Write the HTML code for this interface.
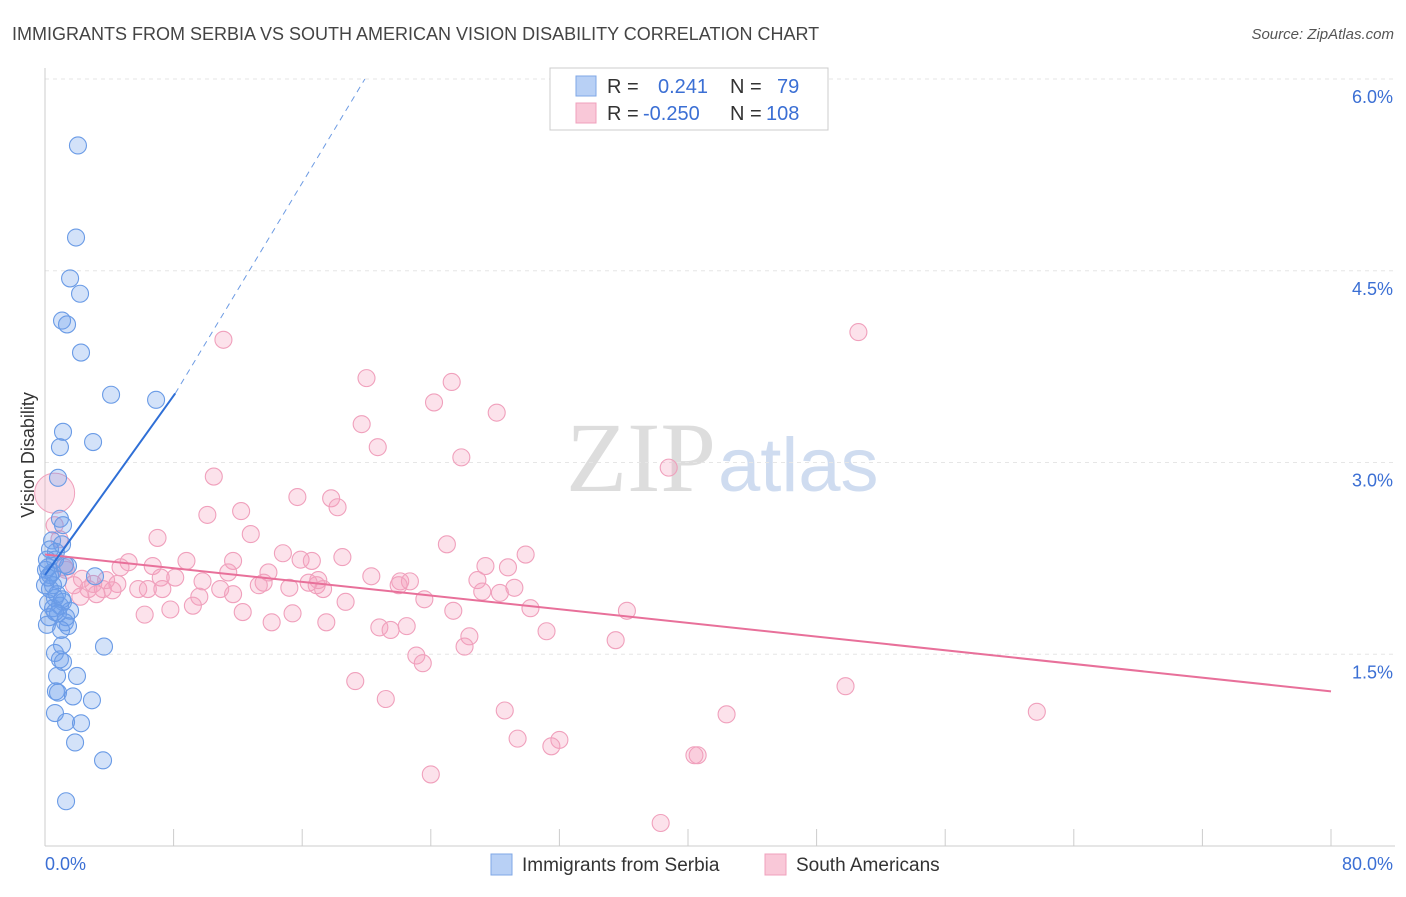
<!DOCTYPE html>
<html><head><meta charset="utf-8">
<style>
body{margin:0;background:#fff;font-family:"Liberation Sans",sans-serif;}
svg text{font-family:"Liberation Sans",sans-serif;}
</style></head>
<body>
<svg id="chart" width="1406" height="892" xmlns="http://www.w3.org/2000/svg">
<text x="12" y="40" font-size="18" fill="#444">IMMIGRANTS FROM SERBIA VS SOUTH AMERICAN VISION DISABILITY CORRELATION CHART</text>
<text x="1394" y="39" font-size="15" fill="#555" font-style="italic" text-anchor="end">Source: ZipAtlas.com</text>
<text x="716" y="491" font-size="100" fill="#ddd" text-anchor="end" style="font-family:'Liberation Serif',serif">ZIP</text>
<text x="718" y="491" font-size="76" fill="#cfdcf0">atlas</text>
<g id="grid"></g>
<g id="axes"></g>
<g id="marks"></g>
<text transform="translate(34,455) rotate(-90)" font-size="18" fill="#333" text-anchor="middle">Vision Disability</text>
<g>
<rect x="550" y="68" width="278" height="62" fill="#fff" stroke="#ccc"/>
<rect x="576" y="76" width="20" height="20" fill="#b8d0f5" stroke="#7fa7e6"/>
<rect x="576" y="103" width="20" height="20" fill="#f9c8d8" stroke="#f0a0bc"/>
<text x="607" y="93" font-size="20" fill="#333">R = <tspan fill="#3b6fd4" x="658">0.241</tspan><tspan x="730" fill="#333">N =</tspan><tspan x="777" fill="#3b6fd4">79</tspan></text>
<text x="607" y="120" font-size="20" fill="#333">R = <tspan fill="#3b6fd4" x="643">-0.250</tspan><tspan x="730" fill="#333">N =</tspan><tspan x="766" fill="#3b6fd4">108</tspan></text>
</g>
<g>
<rect x="491" y="854" width="21" height="21" fill="#b8d0f5" stroke="#7fa7e6"/>
<text x="522" y="871" font-size="19" fill="#333">Immigrants from Serbia</text>
<rect x="765" y="854" width="21" height="21" fill="#f9c8d8" stroke="#f0a0bc"/>
<text x="796" y="871" font-size="19" fill="#333">South Americans</text>
</g>
</svg>
<script>
const xTicks=[0,8,16,24,32,40,48,56,64,72,80];
const yTicks=[1.5,3.0,4.5,6.0];
const yTickLabels=["1.5%","3.0%","4.5%","6.0%"];
const serbiaX=[2.05,1.93,1.56,2.18,1.06,1.37,2.24,4.11,6.91,1.12,2.99,0.93,0.81,0.93,1.12,0.44,1.06,0.68,0.62,1.43,3.11,0.19,0.44,0.81,0.0,0.31,0.62,1.12,0.19,0.93,0.5,1.56,0.81,1.31,0.25,1.24,0.12,1.43,1.0,1.06,3.67,0.62,0.93,1.12,0.75,1.99,0.68,0.81,1.74,2.92,0.62,1.31,2.24,1.87,3.61,1.31,0.06,0.31,0.5,0.75,0.19,1.06,0.62,1.24,0.31,0.12];
const serbiaY=[5.48,4.76,4.44,4.32,4.11,4.08,3.86,3.53,3.49,3.24,3.16,3.12,2.88,2.56,2.51,2.39,2.36,2.3,2.24,2.19,2.11,2.18,2.14,2.08,2.04,2.01,1.94,1.91,1.9,1.88,1.86,1.84,1.82,1.79,1.79,1.75,1.73,1.72,1.69,1.57,1.56,1.51,1.46,1.44,1.33,1.33,1.21,1.2,1.17,1.14,1.04,0.97,0.96,0.81,0.67,0.35,2.16,2.12,2.04,1.97,2.1,1.93,1.83,2.2,2.32,2.24];
const southX=[11.1,50.6,20.0,25.3,19.7,24.2,28.1,20.7,25.9,38.8,10.5,15.7,17.8,18.2,12.2,10.1,12.8,7.0,25.0,29.9,18.5,14.8,15.9,16.6,8.8,5.2,27.4,11.7,6.7,4.7,13.9,20.3,8.1,7.2,11.4,26.9,28.8,22.1,22.7,22.0,13.6,13.3,4.5,9.8,7.3,5.8,2.7,3.6,3.2,4.2,6.4,15.2,16.9,17.3,17.0,16.4,11.7,9.6,10.9,29.2,27.2,28.3,23.6,18.7,9.2,36.2,30.2,25.4,7.8,6.2,12.3,15.4,14.1,17.5,20.8,22.5,21.5,31.2,26.4,35.5,26.1,23.1,23.5,19.3,49.8,21.2,28.6,42.4,61.7,29.4,32.0,31.5,40.6,40.4,24.0,38.3,3.0,2.3,1.2,1.8,3.8,0.9,0.6,1.3,2.2];
const southY=[3.96,4.02,3.66,3.63,3.3,3.47,3.39,3.12,3.04,2.96,2.89,2.73,2.72,2.65,2.62,2.59,2.44,2.41,2.36,2.28,2.26,2.29,2.24,2.23,2.23,2.22,2.19,2.23,2.19,2.18,2.14,2.11,2.1,2.1,2.14,2.08,2.18,2.07,2.07,2.04,2.06,2.04,2.05,2.07,2.01,2.01,2.01,2.01,1.97,2.0,2.01,2.02,2.04,2.01,2.08,2.06,1.97,1.95,2.01,2.02,1.99,1.98,1.93,1.91,1.88,1.84,1.86,1.84,1.85,1.81,1.83,1.82,1.75,1.75,1.71,1.72,1.69,1.68,1.64,1.61,1.56,1.49,1.43,1.29,1.25,1.15,1.06,1.03,1.05,0.84,0.83,0.78,0.71,0.71,0.56,0.18,2.05,2.09,2.18,2.04,2.08,2.4,2.51,2.16,1.95];
const bigSouthX=[0.6];
const bigSouthY=[2.76];
const serbiaTrend=[[0,2.12],[8.1,3.54]];
const serbiaTrendExt=[[8.1,3.54],[19.9,6.0]];
const southTrend=[[0,2.28],[80,1.21]];

const X0=45,X1=1331,Y0=846,Y6=79;
const xs=v=>X0+v/80*(X1-X0);
const ys=v=>Y0-v/6*(Y0-Y6);
const NS="http://www.w3.org/2000/svg";
function mk(tag,attrs,parent){const e=document.createElementNS(NS,tag);for(const k in attrs)e.setAttribute(k,attrs[k]);parent.appendChild(e);return e;}
const grid=document.getElementById('grid'),axes=document.getElementById('axes'),marks=document.getElementById('marks');
yTicks.forEach((t,i)=>{
 const l=mk('line',{x1:X0,x2:1395,y1:ys(t),y2:ys(t),stroke:'#e6e6e6','stroke-dasharray':'4,4'},grid);
 
 
 const tx=mk('text',{x:1393,y:ys(t)+24,'font-size':18,fill:'#3b6fd4','text-anchor':'end'},axes);
 tx.textContent=yTickLabels[i];
 
 
});
const xa=mk('line',{x1:X0,x2:1395,y1:Y0,y2:Y0,stroke:'#ccc'},axes);


const ya=mk('line',{x1:X0,x2:X0,y1:68,y2:Y0,stroke:'#ccc'},axes);


xTicks.forEach(t=>{
 const l=mk('line',{x1:xs(t),x2:xs(t),y1:Y0,y2:Y0-17,stroke:'#ccc'},axes);
 
 
});
const xl0=mk('text',{x:45,y:870,'font-size':18,fill:'#3b6fd4'},axes);xl0.textContent=xTicks[0].toFixed(1)+'%';


const xl1=mk('text',{x:1393,y:870,'font-size':18,fill:'#3b6fd4','text-anchor':'end'},axes);xl1.textContent=xTicks[xTicks.length-1].toFixed(1)+'%';



southX.forEach((x,i)=>{
 const c=mk('circle',{cx:xs(x),cy:ys(southY[i]),r:8.5,fill:'rgba(245,160,190,0.3)',stroke:'#f0a0bc','stroke-width':1.1},marks);
 
 
});
bigSouthX.forEach((x,i)=>{
 const c=mk('circle',{cx:xs(x),cy:ys(bigSouthY[i]),r:20,fill:'rgba(245,160,190,0.3)',stroke:'#f0a0bc','stroke-width':1},marks);
 
 
});
serbiaX.forEach((x,i)=>{
 const c=mk('circle',{cx:xs(x),cy:ys(serbiaY[i]),r:8.5,fill:'rgba(110,160,235,0.3)',stroke:'#6a9be6','stroke-width':1.1},marks);
 
 
});
const st=mk('line',{x1:xs(southTrend[0][0]),y1:ys(southTrend[0][1]),x2:xs(southTrend[1][0]),y2:ys(southTrend[1][1]),stroke:'#e8709a','stroke-width':2},marks);


const bt=mk('line',{x1:xs(serbiaTrend[0][0]),y1:ys(serbiaTrend[0][1]),x2:xs(serbiaTrend[1][0]),y2:ys(serbiaTrend[1][1]),stroke:'#2f6fd6','stroke-width':2},marks);


const be=mk('line',{x1:xs(serbiaTrendExt[0][0]),y1:ys(serbiaTrendExt[0][1]),x2:xs(serbiaTrendExt[1][0]),y2:ys(serbiaTrendExt[1][1]),stroke:'#6d9be3','stroke-width':1,'stroke-dasharray':'6,5'},marks);


</script>
</body></html>
